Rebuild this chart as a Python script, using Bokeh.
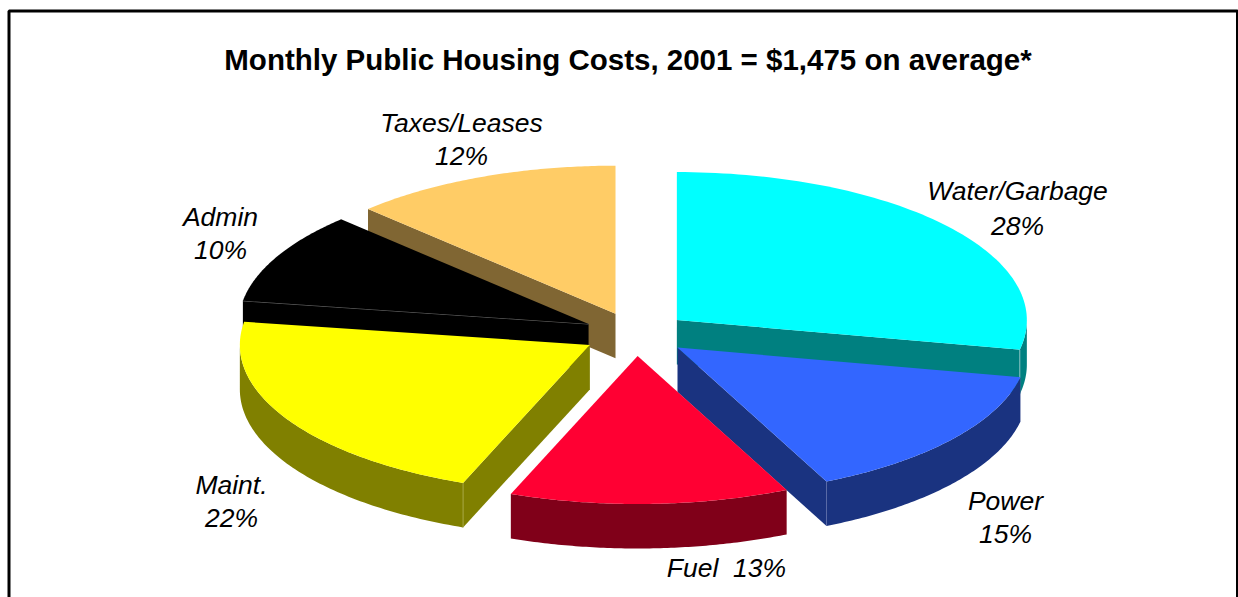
import math
from bokeh.plotting import figure
from bokeh.embed import file_html
from bokeh.resources import INLINE
from bokeh.core.properties import value

# ---- data ----
categories = ["Water/Garbage", "Power", "Fuel", "Maint.", "Admin", "Taxes/Leases"]
shares = [28.2, 14.8, 12.9, 21.6, 10.0, 12.5]
share_labels = ["28%", "15%", "13%", "22%", "10%", "12%"]
title_text = "Monthly Public Housing Costs, 2001 = $1,475 on average*"

# ---- styles ----
top_colors = ["#00FFFF", "#3366FF", "#FF0033", "#FFFF00", "#000000", "#FFCC66"]
side_colors = ["#008080", "#1A3380", "#800019", "#808000", "#000000", "#806633"]
corner_colors = ["#80BFBF", "#5A6BA6", "#800019", "#A6A640", "#000000", "#806633"]
paint_order = [5, 4, 0, 3, 1, 2]
# which cut face of each slice faces the viewer: 0 = start edge, 1 = end edge, None = neither
visible_face = [1, 1, None, 0, 0, 0]

# ---- layout (page pixels) ----
W, H = 1238, 597
CX, CY = 635.3, 333.5
RX, RY = 350.0, 148.0
EX, EY = 53.0, 22.0
DEPTH = 44.5
FONT = "Liberation Sans"
label_pos = {
    "Water/Garbage": (1017, 190, 225),
    "Power": (1005, 500, 533),
    "Fuel": (726, 567, None),
    "Maint.": (231, 484, 517),
    "Admin": (220, 216, 249),
    "Taxes/Leases": (461, 122, 155),
}

p = figure(width=W, height=H, x_range=(0, W), y_range=(H, 0),
           output_backend="svg", toolbar_location=None, min_border=0,
           outline_line_color=None, background_fill_color="white")
p.axis.visible = False
p.grid.visible = False

# frame
p.line([8.5, 8.5, 1237, 1237], [597, 10.5, 10.5, 597], line_color="black", line_width=3)

total = sum(shares)
starts = []
a = 0.0
for s in shares:
    starts.append(a)
    a += s / total * 2 * math.pi


def arc_pts(cx, cy, a0, a1, n=80):
    xs = [cx + RX * math.sin(a0 + (a1 - a0) * i / n) for i in range(n + 1)]
    ys = [cy - RY * math.cos(a0 + (a1 - a0) * i / n) for i in range(n + 1)]
    return xs, ys


for i in paint_order:
    a0 = starts[i]
    a1 = a0 + shares[i] / total * 2 * math.pi
    mid = (a0 + a1) / 2
    ax = CX + EX * math.sin(mid)
    ay = CY - EY * math.cos(mid)
    xs, ys = arc_pts(ax, ay, a0, a1)
    side = side_colors[i]
    # outer wall: only the part of the rim on the viewer's side
    w0, w1 = max(a0, math.pi / 2), min(a1, 3 * math.pi / 2)
    if w1 > w0:
        wx, wy = arc_pts(ax, ay, w0, w1)
        p.patch(wx + wx[::-1], wy + [y + DEPTH for y in wy[::-1]],
                fill_color=side, line_color=None)
    # visible cut face
    face = visible_face[i]
    if face is not None:
        ex, ey = (xs[-1], ys[-1]) if face == 1 else (xs[0], ys[0])
        p.patch([ax, ex, ex, ax], [ay, ey, ey + DEPTH, ay + DEPTH],
                fill_color=side, line_color=None)
        if side == "#000000":
            p.line([ax, ex], [ay, ey], line_color="#666666", line_width=1)
        elif w1 > w0:
            p.line([ex, ex], [ey, ey + DEPTH], line_color=corner_colors[i], line_width=1)
    # top
    p.patch([ax] + xs, [ay] + ys, fill_color=top_colors[i], line_color=None)

p.text([627.5], [59], text=[title_text], text_font=value(FONT), text_font_size="29.5px",
       text_font_style="bold", text_align="center", text_baseline="middle", text_color="black")

for c, s in zip(categories, share_labels):
    x, y1, y2 = label_pos[c]
    first = f"{c}\u00a0\u00a0{s}" if y2 is None else c
    p.text([x], [y1], text=[first], text_font=value(FONT), text_font_size="26.5px",
           text_font_style="italic", text_align="center", text_baseline="middle", text_color="black")
    if y2 is not None:
        p.text([x], [y2], text=[s], text_font=value(FONT), text_font_size="26.5px",
               text_font_style="italic", text_align="center", text_baseline="middle", text_color="black")

open("out.html", "w").write(file_html(p, INLINE))
